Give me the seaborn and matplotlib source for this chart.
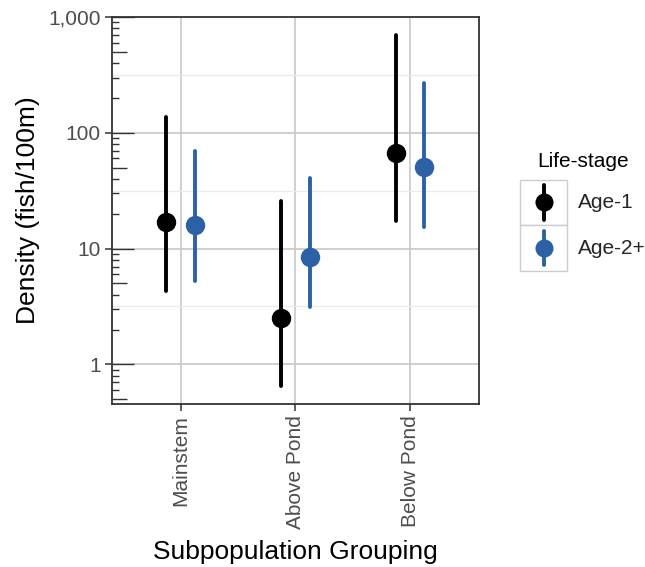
import numpy as np
import pandas as pd
import matplotlib
matplotlib.use("Agg")
import matplotlib.pyplot as plt
from matplotlib.patches import Rectangle
from matplotlib.lines import Line2D
from matplotlib.ticker import FixedLocator, FuncFormatter
import seaborn as sns

# ---- data ----
groups = ["Mainstem", "Above Pond", "Below Pond"]
stages = ["Age-1", "Age-2+"]
age1_est = [17.0, 2.5, 67.0]
age1_lo = [4.3, 0.65, 17.4]
age1_hi = [137.0, 26.0, 700.0]
age2_est = [16.0, 8.4, 51.0]
age2_lo = [5.2, 3.1, 15.5]
age2_hi = [69.0, 41.0, 270.0]
colors = ["#000000", "#2C62A5"]

rows = []
for stage, est, lo, hi in [("Age-1", age1_est, age1_lo, age1_hi),
                           ("Age-2+", age2_est, age2_lo, age2_hi)]:
    for g, e, l, h in zip(groups, est, lo, hi):
        for v in (l, e, h):
            rows.append({"group": g, "stage": stage, "density": v})
df = pd.DataFrame(rows)

sns.set_theme(style="white")
plt.rcParams["font.family"] = ["Liberation Sans", "DejaVu Sans"]

fig = plt.figure(figsize=(6.45, 5.67), dpi=100)
ax = fig.add_axes([0.1736, 0.2875, 0.7426 - 0.1736, 0.970 - 0.2875])
ax.set_yscale("log")

sns.pointplot(data=df, x="group", y="density", hue="stage",
              order=groups, hue_order=stages, palette=colors,
              estimator="median", errorbar=lambda v: (v.min(), v.max()),
              dodge=0.25, linestyle="none", markersize=14,
              markeredgewidth=0, err_kws={"linewidth": 2.8}, ax=ax)

ax.set_xlim(-0.6, 2.6)
ax.set_ylim(10 ** -0.342, 1000)

# ticks
ax.yaxis.set_major_locator(FixedLocator([1, 10, 100, 1000]))
ax.yaxis.set_major_formatter(FuncFormatter(lambda v, p: f"{v:,.0f}"))
ax.yaxis.set_minor_locator(FixedLocator([10 ** (k + 0.5) for k in range(-1, 3)]))
ax.tick_params(axis="y", which="minor", length=0, left=True)
ax.tick_params(axis="both", which="major", length=5, width=1.1, color="#333333",
               labelsize=15, labelcolor="#4d4d4d", left=True, bottom=True, pad=3)
for lab in ax.get_xticklabels():
    lab.set_rotation(90)

# grid
ax.grid(True, which="major", color="#cbcbcb", linewidth=1.3)
ax.grid(True, which="minor", axis="y", color="#ebebeb", linewidth=0.9)
ax.set_axisbelow(True)

for s in ax.spines.values():
    s.set_visible(True)
    s.set_color("#333333")
    s.set_linewidth(1.3)

# log tick annotation on the left (annotation_logticks style)
panel_w_px = fig.get_figwidth() * fig.dpi * ax.get_position().width
ytr = ax.get_yaxis_transform()
for dec in range(-1, 3):
    for m in range(1, 10):
        v = m * 10.0 ** dec
        if v < ax.get_ylim()[0] or v > ax.get_ylim()[1]:
            continue
        L = 22 if m == 1 else (15 if m == 5 else 7)
        ax.plot([0, L / panel_w_px], [v, v], transform=ytr, color="#333333",
                lw=1.0, solid_capstyle="butt", clip_on=False, zorder=1.5)
ax.plot([0, 22 / panel_w_px], [1000, 1000], transform=ytr, color="#333333",
        lw=1.0, clip_on=False, zorder=1.5)

ax.set_xlabel("Subpopulation Grouping", fontsize=19, color="#000000", labelpad=8)
ax.set_ylabel("Density (fish/100m)", fontsize=19, color="#000000", labelpad=6)

# legend with ggplot-like key boxes
handles, labels = ax.get_legend_handles_labels()
if ax.get_legend() is not None:
    ax.get_legend().remove()


class KeyHandler:
    def __init__(self, color):
        self.color = color

    def legend_artist(self, legend, orig_handle, fontsize, handlebox):
        x0, y0 = -handlebox.xdescent, -handlebox.ydescent
        w, h = handlebox.width, handlebox.height
        tr = handlebox.get_transform()
        rect = Rectangle((x0, y0), w, h, facecolor="white", edgecolor="#cccccc",
                         lw=1.0, transform=tr)
        handlebox.add_artist(rect)
        ln = Line2D([x0 + w / 2] * 2, [y0 + 0.12 * h, y0 + 0.88 * h],
                    color=self.color, lw=2.8, transform=tr)
        handlebox.add_artist(ln)
        dot = Line2D([x0 + w / 2], [y0 + h / 2], marker="o", markersize=13,
                     markeredgewidth=0, color=self.color, linestyle="none",
                     transform=tr)
        handlebox.add_artist(dot)
        return rect


hmap = {h: KeyHandler(c) for h, c in zip(handles, colors)}
leg = fig.legend(handles, labels, handler_map=hmap, title="Life-stage",
                 loc="upper left", bbox_to_anchor=(516 / 645, 1 - 148 / 567),
                 frameon=False, fontsize=15, title_fontsize=15,
                 handlelength=2.25, handleheight=3.0, labelspacing=0,
                 handletextpad=0.5, borderaxespad=0, borderpad=0.2)
leg.get_title().set_color("#000000")
leg._legend_box.sep = 6

fig.savefig("out.png", dpi=100)
